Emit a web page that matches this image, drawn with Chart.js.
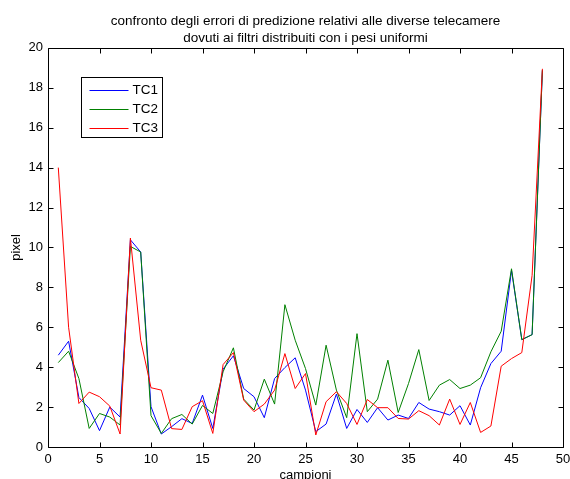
<!DOCTYPE html>
<html>
<head>
<meta charset="utf-8">
<script src="https://cdn.jsdelivr.net/npm/chart.js@4/dist/chart.umd.min.js"></script>
<style>
html,body{margin:0;padding:0;background:#fff;}
#wrap{width:570px;height:479px;}
</style>
</head>
<body>
<div id="wrap"><canvas id="c" width="570" height="479"></canvas></div>
<script>
const titleLines = ["confronto degli errori di predizione relativi alle diverse telecamere", "dovuti ai filtri distribuiti con i pesi uniformi"];
const xLabel = "campioni";
const yLabel = "pixel";
const samples = [1,2,3,4,5,6,7,8,9,10,11,12,13,14,15,16,17,18,19,20,21,22,23,24,25,26,27,28,29,30,31,32,33,34,35,36,37,38,39,40,41,42,43,44,45,46,47,48];
const seriesNames = ["TC1","TC2","TC3"];
const seriesColors = ["#0000ff","#008000","#ff0000"];
const tc1 = [4.6,5.3,2.48,1.93,0.82,2.0,1.5,10.38,9.77,2.02,0.65,1.02,1.42,1.18,2.6,0.93,3.9,4.57,2.93,2.52,1.47,3.43,3.98,4.47,2.85,0.77,1.15,2.65,0.93,1.88,1.23,1.97,1.35,1.6,1.43,2.23,1.9,1.77,1.6,2.07,1.1,2.97,4.18,4.8,8.85,5.38,5.63,18.88];
const tc2 = [4.23,4.8,3.43,0.93,1.68,1.5,1.1,10.05,9.77,1.57,0.68,1.42,1.63,1.15,2.08,1.68,3.77,4.97,2.4,1.85,3.4,2.15,7.13,5.35,3.93,2.1,5.1,2.85,1.47,5.68,1.77,2.4,4.35,1.73,3.18,4.88,2.33,3.1,3.38,2.93,3.1,3.47,4.77,5.8,8.93,5.38,5.63,18.88];
const tc3 = [14.0,6.0,2.18,2.75,2.52,2.05,0.65,10.47,5.35,2.97,2.85,0.92,0.88,2.02,2.32,0.68,4.13,4.73,2.35,1.77,2.15,2.85,4.68,2.93,3.68,0.6,2.27,2.77,2.18,1.13,2.38,1.97,1.97,1.43,1.4,1.82,1.57,1.1,2.4,1.13,2.23,0.73,1.05,4.05,4.43,4.73,8.6,18.95];
const xTicks = [0,5,10,15,20,25,30,35,40,45,50];
const yTicks = [0,2,4,6,8,10,12,14,16,18,20];

const FONT = "'Liberation Sans', Arial, Helvetica, sans-serif";
const allSeries = [tc1, tc2, tc3];

const datasets = allSeries.map((vals, i) => ({
  label: seriesNames[i],
  data: samples.map((s, k) => ({x: s, y: vals[k]})),
  borderColor: seriesColors[i],
  backgroundColor: seriesColors[i],
  borderWidth: 1,
  pointRadius: 0,
  tension: 0,
  fill: false,
  order: allSeries.length - i
}));

const framePlugin = {
  id: 'frame',
  afterDraw(chart) {
    const ctx = chart.ctx;
    const a = chart.chartArea;
    const xs = chart.scales.x, ys = chart.scales.y;
    ctx.save();
    ctx.strokeStyle = '#000';
    ctx.lineWidth = 1;
    ctx.beginPath();
    const L = Math.round(a.left) + 0.5, R = Math.round(a.right) + 0.5;
    const T = Math.round(a.top) + 0.5, B = Math.round(a.bottom) + 0.5;
    ctx.rect(L, T, R - L, B - T);
    const tl = 5;
    xTicks.forEach(v => {
      const px = Math.round(xs.getPixelForValue(v)) + 0.5;
      ctx.moveTo(px, B); ctx.lineTo(px, B - tl);
      ctx.moveTo(px, T); ctx.lineTo(px, T + tl);
    });
    yTicks.forEach(v => {
      const py = Math.round(ys.getPixelForValue(v)) + 0.5;
      ctx.moveTo(L, py); ctx.lineTo(L + tl, py);
      ctx.moveTo(R, py); ctx.lineTo(R - tl, py);
    });
    ctx.stroke();

    // legend box
    const bx = 81.5, by = 77.5, bw = 81, bh = 60;
    ctx.fillStyle = '#fff';
    ctx.fillRect(bx, by, bw, bh);
    ctx.strokeRect(bx, by, bw, bh);
    ctx.font = "13.5px " + FONT;
    ctx.textBaseline = 'middle';
    ctx.textAlign = 'left';
    chart.data.datasets.forEach((ds, i) => {
      const cy = by + 12 + i * 19;
      ctx.strokeStyle = ds.borderColor;
      ctx.beginPath();
      ctx.moveTo(bx + 8, Math.round(cy) + 0.5);
      ctx.lineTo(bx + 47, Math.round(cy) + 0.5);
      ctx.stroke();
      ctx.fillStyle = '#000';
      ctx.fillText(ds.label, bx + 51, cy + 1);
    });
    ctx.restore();
  }
};

new Chart(document.getElementById('c'), {
  type: 'line',
  data: { datasets },
  plugins: [framePlugin],
  options: {
    responsive: false,
    animation: false,
    devicePixelRatio: 1,
    layout: { padding: { left: 0, right: 7, top: 0, bottom: 0 } },
    plugins: {
      legend: { display: false },
      tooltip: { enabled: false },
      title: {
        display: true,
        fullSize: false,
        text: titleLines,
        color: '#000',
        font: { family: FONT, size: 13.5, weight: 'normal', lineHeight: 1.25 },
        padding: { top: 12.5, bottom: 1.6 }
      }
    },
    scales: {
      x: {
        type: 'linear',
        min: 0, max: 50,
        afterBuildTicks(scale) { scale.ticks = xTicks.map(v => ({value: v})); },
        afterFit(scale) { scale.height = 32; scale.paddingRight = 0; scale.paddingLeft = 0; },
        grid: { display: false, drawTicks: false },
        border: { display: false },
        ticks: { color: '#000', font: { family: FONT, size: 13 }, padding: 5, maxRotation: 0 },
        title: { display: true, text: xLabel, color: '#000', font: { family: FONT, size: 13 }, padding: { top: 0, bottom: -4 } }
      },
      y: {
        type: 'linear',
        min: 0, max: 20,
        afterBuildTicks(scale) { scale.ticks = yTicks.map(v => ({value: v})); },
        afterFit(scale) { scale.width = 48; scale.paddingTop = 0; scale.paddingBottom = 0; },
        grid: { display: false, drawTicks: false },
        border: { display: false },
        ticks: { color: '#000', font: { family: FONT, size: 13 }, padding: 5 },
        title: { display: true, text: yLabel, color: '#000', font: { family: FONT, size: 13 }, padding: { top: 9, bottom: 0 } }
      }
    }
  }
});
</script>
</body>
</html>
